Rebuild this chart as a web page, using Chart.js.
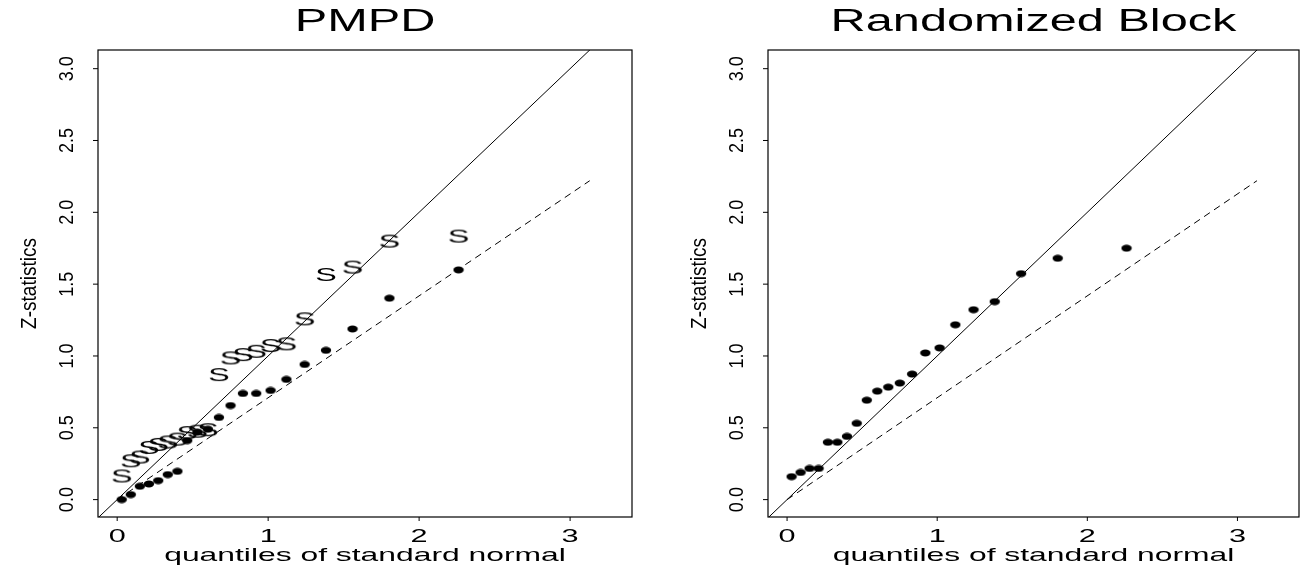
<!DOCTYPE html>
<html>
<head>
<meta charset="utf-8">
<script src="https://cdn.jsdelivr.net/npm/chart.js@4.4.1/dist/chart.umd.min.js"></script>
<style>
  html, body { margin: 0; padding: 0; background: #fff; }
  .panel { position: absolute; top: 0; width: 652px; height: 569px; }
</style>
</head>
<body>
<div class="panel" style="left:0"><canvas id="left" width="652" height="569"></canvas></div>
<div class="panel" style="left:652px"><canvas id="right" width="652" height="569"></canvas></div>
<script>
// normal quantiles on the x axis (same for every series)
const quantiles = [0.030, 0.090, 0.150, 0.210, 0.272, 0.335, 0.399, 0.464, 0.531, 0.601,
  0.674, 0.751, 0.833, 0.921, 1.016, 1.121, 1.242, 1.383, 1.559, 1.803, 2.261];

// PMPD panel: "S" points and filled dots
const pmpdS = [0.168, 0.274, 0.300, 0.367, 0.388, 0.405, 0.425, 0.470, 0.480, 0.490,
  0.874, 0.990, 1.013, 1.036, 1.076, 1.088, 1.262, 1.571, 1.622, 1.803, 1.838];
const pmpdDots = [0.000, 0.035, 0.093, 0.109, 0.132, 0.174, 0.197, 0.411, 0.470, 0.490,
  0.572, 0.655, 0.739, 0.739, 0.760, 0.837, 0.941, 1.039, 1.188, 1.402, 1.599];

// Randomized block panel
const blockDots = [0.160, 0.189, 0.217, 0.217, 0.399, 0.399, 0.440, 0.531, 0.692, 0.755,
  0.783, 0.811, 0.874, 1.021, 1.056, 1.217, 1.322, 1.378, 1.573, 1.680, 1.750];

// reference lines
const identX = [-0.2, 3.5], identY = [-0.2, 3.5];
const dashX = [0, 3.13], dashY = [0, 2.22];

const xTicks = [0, 1, 2, 3];
const yTicks = [0, 0.5, 1, 1.5, 2, 2.5, 3];
const titles = ['PMPD', 'Randomized Block'];
const xTitle = 'quantiles of standard normal';
const yTitle = 'Z-statistics';

const SX = 1.75; // horizontal text is drawn wide, as in the original
const FONT = '"Liberation Sans", Arial, sans-serif';

function pts(xs, ys) { return xs.map((x, i) => ({ x: x, y: ys[i] })); }

// filled ellipse used as point marker
function dotImage() {
  const c = document.createElement('canvas');
  c.width = 12; c.height = 8;
  const g = c.getContext('2d');
  g.fillStyle = '#000';
  g.beginPath();
  g.ellipse(6, 4, 5.2, 3.4, 0, 0, Math.PI * 2);
  g.fill();
  return c;
}

function sImage() {
  const c = document.createElement('canvas');
  c.width = 26; c.height = 20;
  const g = c.getContext('2d');
  g.fillStyle = '#000';
  g.font = '19px ' + FONT;
  g.textAlign = 'center';
  g.textBaseline = 'alphabetic';
  g.translate(13, 10);
  g.scale(1.7, 1);
  g.fillText('S', 0, 7);
  return c;
}

function text(ctx, s, x, y, size, sx, rot, base) {
  ctx.save();
  ctx.translate(x, y);
  ctx.scale(sx, 1);
  if (rot) ctx.rotate(-Math.PI / 2);
  ctx.font = size + 'px ' + FONT;
  ctx.fillStyle = '#000';
  ctx.textAlign = 'center';
  ctx.textBaseline = base || 'alphabetic';
  ctx.fillText(s, 0, 0);
  ctx.restore();
}

const frame = {
  id: 'frame',
  afterDraw(chart, args, opts) {
    const { ctx, chartArea: a, scales } = chart;
    ctx.save();
    ctx.strokeStyle = '#000';
    ctx.lineWidth = 1.2;
    ctx.strokeRect(a.left, a.top, a.right - a.left, a.bottom - a.top);
    ctx.lineWidth = 1;
    xTicks.forEach(v => {
      const px = scales.x.getPixelForValue(v);
      ctx.beginPath(); ctx.moveTo(px, a.bottom); ctx.lineTo(px, a.bottom + 4); ctx.stroke();
      text(ctx, String(v), px, a.bottom + 25, 17.5, SX);
    });
    yTicks.forEach(v => {
      const py = scales.y.getPixelForValue(v);
      ctx.beginPath(); ctx.moveTo(a.left, py); ctx.lineTo(a.left - 5, py); ctx.stroke();
      text(ctx, v.toFixed(1), a.left - 31, py, 18, 1.15, true, 'middle');
    });
    const cx = (a.left + a.right) / 2;
    text(ctx, xTitle, cx, a.bottom + 44, 18.2, SX);
    text(ctx, yTitle, a.left - 68, (a.top + a.bottom) / 2, 19, 1.15, true, 'middle');
    text(ctx, opts.title, cx, 31, 31, 1.57);
    ctx.restore();
  }
};

function makeChart(id, title, left, datasets) {
  return new Chart(document.getElementById(id), {
    type: 'scatter',
    data: { datasets: datasets },
    options: {
      responsive: false,
      devicePixelRatio: 1,
      animation: false,
      layout: { padding: { left: left, right: 652 - left - 534, top: 50, bottom: 52 } },
      scales: {
        x: { type: 'linear', display: false, min: -0.127, max: 3.41 },
        y: { type: 'linear', display: false, min: -0.121, max: 3.13 }
      },
      plugins: { legend: { display: false }, tooltip: { enabled: false }, frame: { title: title } }
    },
    plugins: [frame]
  });
}

const lineSets = () => [
  { type: 'line', data: pts(identX, identY), borderColor: '#000', borderWidth: 1, pointRadius: 0 },
  { type: 'line', data: pts(dashX, dashY), borderColor: '#000', borderWidth: 1, borderDash: [7, 5], pointRadius: 0 }
];

makeChart('left', titles[0], 98, [
  ...lineSets(),
  { data: pts(quantiles, pmpdDots), pointStyle: dotImage() },
  { data: pts(quantiles, pmpdS), pointStyle: sImage() }
]);

makeChart('right', titles[1], 116, [
  ...lineSets(),
  { data: pts(quantiles, blockDots), pointStyle: dotImage() }
]);
</script>
</body>
</html>
